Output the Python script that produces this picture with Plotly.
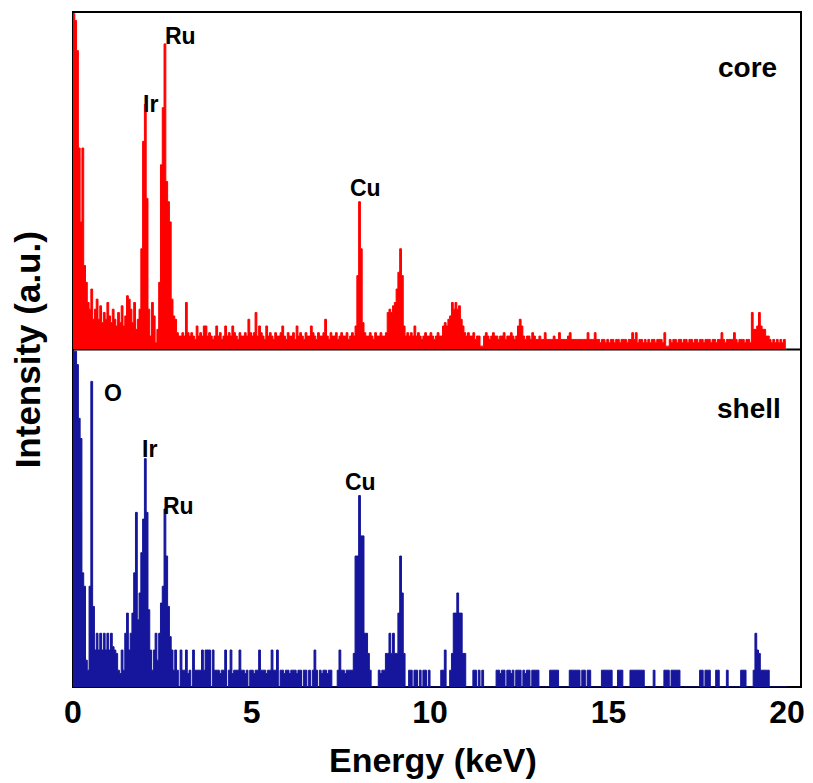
import plotly.graph_objects as go
from plotly.subplots import make_subplots

# EDS spectra, 0.05 keV channels starting at 0.00 keV (one row = 1 keV)
CHANNEL_KEV = 0.05

core_counts = [
    100, 98, 89, 60, 38, 60, 25, 20, 14, 12, 18, 9, 12, 15, 9, 13, 8, 11, 9, 14,
    10, 8, 12, 9, 7, 11, 8, 13, 7, 10, 16, 15, 12, 8, 14, 6, 9, 12, 30, 62,
    73, 45, 12, 4, 14, 10, 2, 6, 20, 55, 72, 91, 50, 44, 38, 15, 10, 9, 5, 4,
    4, 5, 4, 14, 5, 4, 5, 4, 3, 7, 4, 5, 4, 7, 7, 4, 5, 4, 3, 4,
    7, 4, 5, 3, 4, 7, 4, 5, 4, 7, 5, 4, 3, 5, 4, 4, 5, 4, 9, 5,
    4, 5, 11, 4, 7, 5, 4, 3, 7, 4, 5, 4, 3, 5, 4, 4, 5, 7, 4, 3,
    5, 4, 4, 5, 3, 7, 4, 5, 4, 3, 5, 4, 4, 7, 5, 4, 3, 5, 4, 4,
    5, 9, 4, 3, 5, 4, 4, 5, 3, 4, 5, 4, 4, 5, 3, 4, 5, 4, 7, 22,
    44, 30, 8, 5, 4, 4, 5, 4, 3, 5, 4, 4, 5, 4, 4, 5, 11, 12, 11, 13,
    14, 18, 23, 30, 22, 7, 4, 5, 4, 5, 4, 7, 4, 5, 4, 3, 4, 5, 4, 4,
    5, 4, 3, 4, 5, 4, 4, 7, 8, 7, 9, 10, 14, 12, 14, 12, 13, 9, 7, 5,
    4, 5, 4, 4, 5, 3, 4, 4, 1, 1, 4, 5, 4, 3, 4, 5, 4, 4, 3, 4,
    4, 5, 3, 4, 4, 5, 4, 3, 4, 7, 9, 7, 4, 3, 4, 4, 3, 5, 4, 3,
    3, 4, 3, 3, 5, 3, 3, 3, 3, 4, 3, 3, 5, 3, 3, 3, 3, 4, 5, 3,
    3, 3, 3, 3, 3, 3, 3, 3, 5, 3, 3, 3, 5, 3, 3, 2, 3, 3, 2, 3,
    2, 3, 3, 2, 3, 3, 2, 3, 3, 3, 2, 3, 3, 5, 3, 5, 2, 3, 3, 2,
    3, 2, 3, 2, 3, 3, 2, 3, 3, 3, 2, 5, 1, 1, 3, 2, 3, 3, 2, 3,
    3, 2, 3, 3, 2, 3, 3, 2, 3, 3, 2, 3, 3, 2, 3, 3, 3, 2, 3, 3,
    2, 3, 3, 5, 3, 2, 3, 3, 3, 3, 5, 3, 2, 3, 3, 3, 2, 3, 3, 2,
    11, 6, 6, 7, 11, 7, 6, 6, 4, 4, 3, 2, 3, 2, 3, 2, 3, 2, 3, 0,
]

shell_counts = [
    100, 100, 96, 80, 74, 34, 30, 8, 5, 30, 91, 24, 11, 16, 11, 16, 11, 16, 11, 16,
    11, 16, 12, 11, 10, 5, 4, 11, 5, 16, 22, 11, 16, 22, 34, 52, 20, 28, 40, 50,
    68, 52, 23, 11, 5, 11, 16, 8, 16, 25, 30, 53, 39, 24, 15, 11, 5, 11, 5, 0,
    11, 5, 5, 11, 4, 5, 0, 11, 5, 5, 5, 5, 11, 5, 11, 11, 11, 0, 11, 5,
    5, 5, 4, 5, 5, 11, 0, 5, 11, 4, 5, 5, 5, 11, 5, 5, 4, 5, 0, 5,
    5, 4, 5, 5, 11, 5, 5, 5, 4, 5, 5, 11, 5, 5, 11, 0, 5, 5, 4, 5,
    5, 4, 5, 5, 5, 4, 5, 5, 0, 5, 5, 0, 5, 0, 5, 11, 5, 0, 5, 4,
    5, 5, 4, 5, 5, 0, 0, 0, 5, 11, 5, 5, 4, 5, 5, 5, 5, 10, 39, 39,
    57, 45, 45, 16, 16, 10, 5, 0, 0, 0, 0, 5, 4, 5, 5, 10, 10, 16, 10, 16,
    10, 10, 22, 39, 28, 10, 0, 0, 5, 5, 0, 5, 5, 0, 5, 0, 5, 5, 0, 5,
    0, 0, 0, 0, 0, 0, 5, 5, 11, 0, 0, 5, 10, 22, 22, 28, 22, 22, 10, 10,
    0, 0, 0, 0, 5, 5, 0, 5, 0, 5, 0, 0, 0, 0, 0, 0, 0, 5, 5, 4,
    5, 5, 0, 5, 5, 4, 5, 0, 5, 5, 5, 0, 5, 4, 5, 5, 0, 5, 5, 5,
    5, 0, 0, 0, 0, 0, 0, 5, 5, 5, 5, 5, 0, 0, 0, 0, 0, 0, 5, 5,
    5, 5, 5, 5, 0, 5, 5, 0, 5, 5, 0, 0, 0, 0, 0, 0, 5, 5, 5, 5,
    5, 5, 0, 0, 0, 5, 5, 5, 0, 0, 0, 0, 5, 5, 5, 5, 5, 5, 5, 5,
    0, 0, 0, 0, 0, 5, 0, 0, 0, 0, 0, 5, 5, 5, 0, 5, 5, 5, 5, 5,
    0, 0, 0, 0, 0, 0, 0, 0, 0, 0, 0, 5, 5, 0, 5, 5, 5, 0, 0, 0,
    5, 5, 0, 0, 0, 0, 5, 0, 0, 0, 0, 0, 0, 0, 5, 5, 5, 0, 0, 0,
    0, 5, 16, 11, 10, 5, 5, 5, 5, 5, 0, 0, 0, 0, 0, 0, 0, 0, 0, 0,
]

x_ticks = [0, 5, 10, 15, 20]

# peak labels: (text, energy keV, intensity)
core_labels = [("Ru", 3.0, 93.5), ("Ir", 2.17, 73), ("Cu", 8.2, 48)]
shell_labels = [("O", 1.11, 87.5), ("Ir", 2.15, 71), ("Ru", 2.95, 54), ("Cu", 8.05, 61)]

RED = "#ff0000"
BLUE = "#16169c"
FONT = "Liberation Sans, Arial, sans-serif"
X_RANGE = [0, 20.39]


def step_xy(counts):
    # left edges of each channel plus the closing edge so the last step has width
    xs = [round(i * CHANNEL_KEV, 3) for i in range(len(counts) + 1)]
    ys = list(counts) + [counts[-1]]
    return xs, ys


fig = make_subplots(rows=2, cols=1, shared_xaxes=True, vertical_spacing=0)

# core spectrum in the upper panel
xs, ys = step_xy(core_counts)
fig.add_trace(
    go.Scatter(x=xs, y=ys, mode="lines", line=dict(color=RED, width=1, shape="hv"),
               fill="tozeroy", fillcolor=RED, hoverinfo="skip", showlegend=False),
    row=1, col=1,
)

# shell spectrum in the lower panel, on the labelled twin x axis (x3 over x2);
# x2 itself only draws the tick marks
xs, ys = step_xy(shell_counts)
fig.add_trace(
    go.Scatter(x=xs, y=ys, mode="lines", line=dict(color=BLUE, width=1, shape="hv"),
               fill="tozeroy", fillcolor=BLUE, hoverinfo="skip", showlegend=False,
               xaxis="x3", yaxis="y2"),
)

fig.update_xaxes(range=X_RANGE, showgrid=False, zeroline=False, showline=False)
fig.update_xaxes(showticklabels=False, ticks="", row=1, col=1)
fig.update_xaxes(
    tickvals=x_ticks, ticks="outside", ticklen=8, tickwidth=2, tickcolor="black",
    showticklabels=False,
    minor=dict(ticks="outside", ticklen=5, tickwidth=2, tickcolor="black",
               tick0=0, dtick=2.5),
    row=2, col=1,
)
fig.update_yaxes(range=[0, 100.5], showgrid=False, zeroline=False, showline=False,
                 showticklabels=False, ticks="")

annotations = []
for text, x, y in core_labels:
    annotations.append(dict(text=text, x=x, y=y, xref="x", yref="y", showarrow=False,
                            font=dict(family=FONT, size=23, color="black", weight="bold")))
for text, x, y in shell_labels:
    annotations.append(dict(text=text, x=x, y=y, xref="x3", yref="y2", showarrow=False,
                            font=dict(family=FONT, size=23, color="black", weight="bold")))
annotations.append(dict(text="core", x=18.9, y=84, xref="x", yref="y", showarrow=False,
                        font=dict(family=FONT, size=28, color="black", weight="bold")))
annotations.append(dict(text="shell", x=18.92, y=83, xref="x3", yref="y2", showarrow=False,
                        font=dict(family=FONT, size=28, color="black", weight="bold")))
annotations.append(dict(text="Energy (keV)", x=0.495, y=-0.108, xref="paper", yref="paper",
                        showarrow=False, xanchor="center", yanchor="middle",
                        font=dict(family=FONT, size=34, color="black", weight="bold")))
annotations.append(dict(text="Intensity (a.u.)", x=-0.062, y=0.5, xref="paper", yref="paper",
                        showarrow=False, textangle=-90, xanchor="center", yanchor="middle",
                        font=dict(family=FONT, size=35, color="black", weight="bold")))

fig.update_layout(
    width=813, height=783,
    margin=dict(l=73, r=8, t=12, b=96),
    paper_bgcolor="white", plot_bgcolor="white",
    annotations=annotations,
    xaxis3=dict(
        overlaying="x2", anchor="y2", range=X_RANGE, side="bottom",
        tickvals=x_ticks, ticks="", ticklabelstandoff=3,
        tickfont=dict(family=FONT, size=32, color="black", weight="bold"),
        showgrid=False, zeroline=False, showline=False,
    ),
    shapes=[
        dict(type="rect", xref="paper", yref="paper", x0=0, x1=1, y0=0, y1=1,
             line=dict(color="black", width=2), layer="below"),
        dict(type="line", xref="paper", yref="paper", x0=0, x1=1, y0=0.5, y1=0.5,
             line=dict(color="black", width=2), layer="below"),
    ],
)

fig.write_html("out.html")
